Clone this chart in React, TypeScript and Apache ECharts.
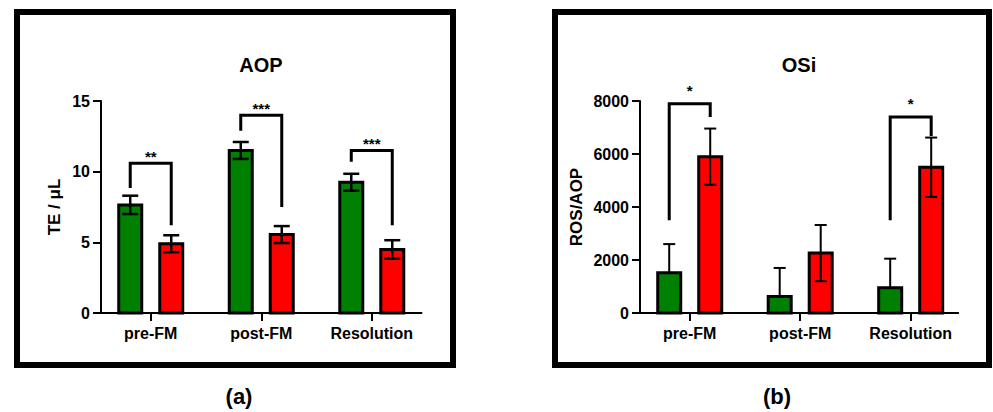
import React, { useEffect, useRef } from "react";
import * as echarts from "echarts";

const categories = ["pre-FM", "post-FM", "Resolution"];

// Panel (a): AOP, TE / µL
const aopGreen = [7.65, 11.5, 9.25];
const aopGreenErr = [0.65, 0.6, 0.6];
const aopRed = [4.9, 5.55, 4.5];
const aopRedErr = [0.6, 0.6, 0.65];
// brackets: [category index, left leg end, top, right leg end]
const aopBrackets = [
  [0, 8.85, 10.6, 6.2],
  [1, 12.9, 14.0, 7.5],
  [2, 10.7, 11.5, 6.2],
];
const aopStars = ["**", "***", "***"];

// Panel (b): OSi, ROS/AOP
const osiGreen = [1520, 620, 950];
const osiGreenErr = [1080, 1080, 1100];
const osiRed = [5900, 2260, 5500];
const osiRedErr = [1060, 1060, 1120];
const osiBrackets = [
  [0, 3500, 7900, 7400],
  [2, 3500, 7400, 6680],
];
const osiStars = ["*", "*"];

const yTicksA = { min: 0, max: 15, interval: 5 };
const yTicksB = { min: 0, max: 8000, interval: 2000 };

const GREEN = "#008000";
const RED = "#ff0000";
const FONT = "Liberation Sans, Arial, sans-serif";
const OFFSET = 20.5;

function barSeries(
  gridIdx: number,
  vals: number[],
  errs: number[],
  color: string,
  side: number,
  lower: boolean,
  errWidth: number,
  capW: number
) {
  return {
    type: "custom",
    xAxisIndex: gridIdx,
    yAxisIndex: gridIdx,
    clip: false,
    data: vals.map((v, i) => [i, v, errs[i]]),
    renderItem: (params: any, api: any) => {
      const cat = api.value(0);
      const v = api.value(1);
      const e = api.value(2);
      const top = api.coord([cat, v]);
      const base = api.coord([cat, 0]);
      const cx = top[0] + side * OFFSET;
      const yUp = api.coord([cat, v + e])[1];
      const yLo = lower ? api.coord([cat, v - e])[1] : top[1];
      const children: any[] = [
        {
          type: "rect",
          shape: { x: cx - 11.5, y: top[1], width: 23, height: base[1] - top[1] },
          style: { fill: color, stroke: "#000", lineWidth: 3 },
        },
        {
          type: "line",
          shape: { x1: cx, y1: yUp, x2: cx, y2: yLo },
          style: { stroke: "#000", lineWidth: errWidth },
        },
        {
          type: "line",
          shape: { x1: cx - capW / 2, y1: yUp, x2: cx + capW / 2, y2: yUp },
          style: { stroke: "#000", lineWidth: errWidth },
        },
      ];
      if (lower) {
        children.push({
          type: "line",
          shape: { x1: cx - capW / 2, y1: yLo, x2: cx + capW / 2, y2: yLo },
          style: { stroke: "#000", lineWidth: errWidth },
        });
      }
      return { type: "group", children };
    },
  };
}

function bracketSeries(gridIdx: number, brackets: number[][], stars: string[], starGap: number) {
  return {
    type: "custom",
    xAxisIndex: gridIdx,
    yAxisIndex: gridIdx,
    clip: false,
    data: brackets,
    renderItem: (params: any, api: any) => {
      const cat = api.value(0);
      const cx = api.coord([cat, 0])[0];
      const yL = api.coord([cat, api.value(1)])[1];
      const yT = api.coord([cat, api.value(2)])[1];
      const yR = api.coord([cat, api.value(3)])[1];
      const xL = cx - OFFSET;
      const xR = cx + OFFSET;
      return {
        type: "group",
        children: [
          {
            type: "polyline",
            shape: { points: [[xL, yL], [xL, yT], [xR, yT], [xR, yR]] },
            style: { stroke: "#000", lineWidth: 3, fill: "none" },
          },
          {
            type: "text",
            x: cx,
            y: yT - starGap,
            style: {
              text: stars[params.dataIndex],
              fill: "#000",
              font: `bold 15px ${FONT}`,
              align: "center",
              verticalAlign: "middle",
            },
          },
        ],
      };
    },
  };
}

function xAxisCfg(gridIdx: number, max: number) {
  return {
    type: "value",
    gridIndex: gridIdx,
    min: -0.45,
    max,
    splitLine: { show: false },
    axisLine: { show: true, onZero: false, lineStyle: { color: "#000", width: 2 } },
    axisTick: { show: true, customValues: [0, 1, 2], length: 8, lineStyle: { color: "#000", width: 2 } },
    axisLabel: {
      customValues: [0, 1, 2],
      formatter: (v: number) => categories[Math.round(v)] ?? "",
      color: "#000",
      fontFamily: FONT,
      fontWeight: "bold",
      fontSize: 16,
      margin: 12,
    },
  };
}

function yAxisCfg(gridIdx: number, t: { min: number; max: number; interval: number }, name: string, gap: number) {
  return {
    type: "value",
    gridIndex: gridIdx,
    min: t.min,
    max: t.max,
    interval: t.interval,
    name,
    nameLocation: "middle",
    nameGap: gap,
    nameTextStyle: { color: "#000000", fontFamily: FONT, fontWeight: "bold", fontSize: 17 },
    splitLine: { show: false },
    axisLine: { show: true, onZero: false, lineStyle: { color: "#000", width: 2 } },
    axisTick: { show: true, length: 8, lineStyle: { color: "#000", width: 2 } },
    axisLabel: {
      color: "#000",
      fontFamily: FONT,
      fontWeight: "bold",
      fontSize: 16,
      margin: 11,
      formatter: (v: number) => String(v),
    },
  };
}

function textEl(text: string, x: number, y: number, size: number) {
  return {
    type: "text",
    x,
    y,
    style: { text, fill: "#000", font: `bold ${size}px ${FONT}`, align: "center", verticalAlign: "middle" },
  };
}

export default function App() {
  const ref = useRef<HTMLDivElement>(null);
  useEffect(() => {
    if (!ref.current) return;
    const chart = echarts.init(ref.current, undefined, { renderer: "svg" });
    chart.setOption({
      animation: false,
      backgroundColor: "#fff",
      grid: [
        { left: 101, top: 101, width: 320.5, height: 212 },
        { left: 640, top: 101, width: 318.2, height: 212 },
      ],
      xAxis: [xAxisCfg(0, 2.45), xAxisCfg(1, 2.43)],
      yAxis: [yAxisCfg(0, yTicksA, "TE / μL", 38), yAxisCfg(1, yTicksB, "ROS/AOP", 55)],
      series: [
        barSeries(0, aopGreen, aopGreenErr, GREEN, -1, true, 2.5, 16),
        barSeries(0, aopRed, aopRedErr, RED, 1, true, 2.5, 16),
        bracketSeries(0, aopBrackets, aopStars, 7),
        barSeries(1, osiGreen, osiGreenErr, GREEN, -1, false, 2, 12),
        barSeries(1, osiRed, osiRedErr, RED, 1, true, 2, 12),
        bracketSeries(1, osiBrackets, osiStars, 13),
      ],
      graphic: [
        {
          type: "rect",
          shape: { x: 17, y: 12, width: 436, height: 353 },
          style: { fill: "none", stroke: "#000", lineWidth: 6 },
        },
        {
          type: "rect",
          shape: { x: 555, y: 12, width: 434, height: 353 },
          style: { fill: "none", stroke: "#000", lineWidth: 6 },
        },
        textEl("AOP", 261, 65, 20),
        textEl("OSi", 799, 65, 20),
        textEl("(a)", 239, 396, 22),
        textEl("(b)", 777, 396, 22),
      ],
    });
    return () => chart.dispose();
  }, []);
  return (
    <div
      ref={ref}
      style={{ position: "absolute", left: 0, top: 0, width: 993, height: 412, background: "#fff" }}
    />
  );
}
